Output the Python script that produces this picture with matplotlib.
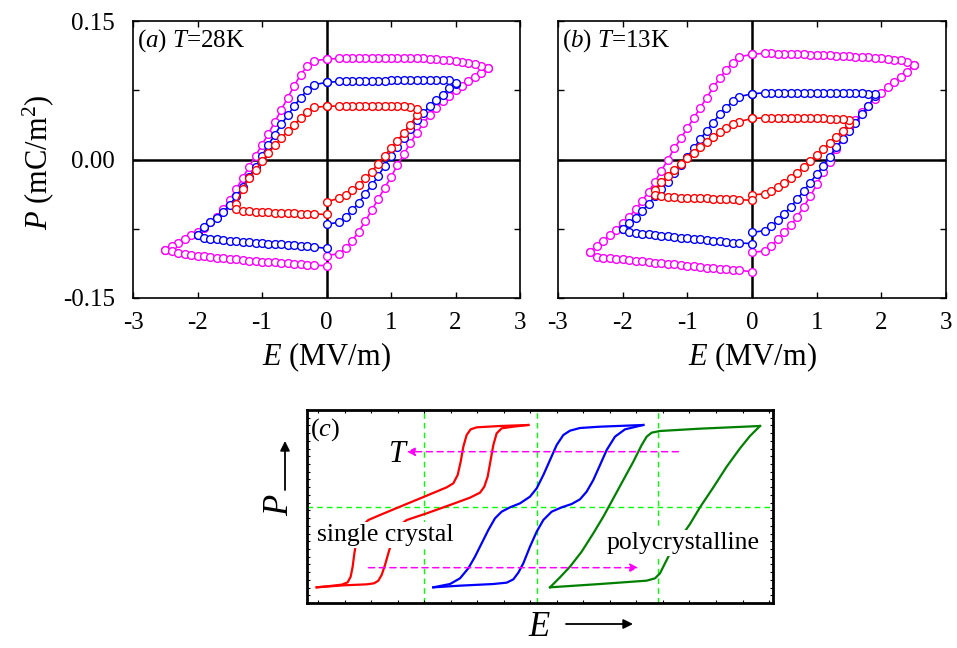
import numpy as np
import matplotlib
matplotlib.use("Agg")
import matplotlib.pyplot as plt
from matplotlib.ticker import MultipleLocator

plt.rcParams['font.family'] = ['Liberation Serif', 'DejaVu Serif']
plt.rcParams['mathtext.fontset'] = 'custom'
plt.rcParams['mathtext.rm'] = 'Liberation Serif'
plt.rcParams['mathtext.it'] = 'Liberation Serif:italic'
plt.rcParams['axes.unicode_minus'] = False

# field steps of the measurement (MV/m), same grid on both polarities
E_grid = [0.0, 0.2, 0.3, 0.4, 0.5, 0.6, 0.7, 0.8, 0.9, 1.0, 1.1, 1.2, 1.3,
          1.4, 1.5, 1.6, 1.7, 1.8, 1.9, 2.0, 2.1, 2.2, 2.3, 2.4, 2.5]

# ---- (a) T = 28 K ----  P in mC/m^2
# rise: 0 -> +Emax, top: values at E_grid (returned +Emax -> 0),
# desc: 0 -> -Emax, bot: values at -E_grid (returned -Emax -> 0)
a_mag_rise = [-0.104, -0.102, -0.096, -0.088, -0.078, -0.067, -0.055, -0.043, -0.031, -0.019,
              -0.006, 0.006, 0.018, 0.029, 0.039, 0.048, 0.056, 0.063, 0.069, 0.075,
              0.080, 0.085, 0.089, 0.094, 0.099]
a_mag_top = [0.1086, 0.1095, 0.1098, 0.1099, 0.1100, 0.1100, 0.1100, 0.1100, 0.1100, 0.1100,
             0.1100, 0.1100, 0.1099, 0.1098, 0.1095, 0.1091, 0.1086, 0.1080, 0.1075, 0.1069,
             0.1060, 0.1047, 0.1035, 0.1015, 0.0990]
a_mag_desc = [0.1086, 0.107, 0.101, 0.092, 0.080, 0.067, 0.054, 0.041, 0.028, 0.016,
              0.004, -0.008, -0.020, -0.032, -0.044, -0.054, -0.062, -0.068, -0.074, -0.078,
              -0.082, -0.086, -0.090, -0.094, -0.0975]
a_mag_bot = [-0.1150, -0.1145, -0.1140, -0.1135, -0.1130, -0.1125, -0.1120, -0.1115, -0.1110, -0.1105,
             -0.1100, -0.1095, -0.1090, -0.1083, -0.1076, -0.1070, -0.1062, -0.1055, -0.1047, -0.1040,
             -0.1030, -0.1020, -0.1010, -0.0995, -0.0975]

a_blue_rise = [-0.070, -0.068, -0.062, -0.055, -0.047, -0.037, -0.028, -0.018, -0.007, 0.004,
               0.014, 0.023, 0.033, 0.043, 0.050, 0.058, 0.064, 0.070, 0.077, 0.082]
a_blue_top = [0.0835, 0.0845, 0.0850, 0.0850, 0.0850, 0.0850, 0.0852, 0.0854, 0.0855, 0.0856,
              0.0858, 0.0860, 0.0861, 0.0862, 0.0862, 0.0862, 0.0861, 0.0860, 0.0858, 0.0830]
a_blue_desc = [0.0835, 0.081, 0.075, 0.067, 0.058, 0.048, 0.038, 0.027, 0.016, 0.004,
               -0.008, -0.019, -0.030, -0.040, -0.049, -0.057, -0.063, -0.068, -0.073, -0.0815]
a_blue_bot = [-0.0963, -0.0945, -0.0940, -0.0936, -0.0930, -0.0926, -0.0920, -0.0916, -0.0910, -0.0906,
              -0.0900, -0.0896, -0.0890, -0.0884, -0.0878, -0.0872, -0.0866, -0.0860, -0.0855, -0.0815]

a_red_rise = [-0.0457, -0.042, -0.0385, -0.0335, -0.028, -0.0205, -0.0133, -0.0047, 0.0036, 0.0126,
              0.0205, 0.0288, 0.0378, 0.0478]
a_red_top = [0.0576, 0.0580, 0.0582, 0.0582, 0.0582, 0.0582, 0.0582, 0.0582, 0.0581, 0.0580,
             0.0578, 0.0575, 0.0570, 0.0545]
a_red_desc = [0.0576, 0.0565, 0.0514, 0.045, 0.0378, 0.031, 0.023, 0.0155, 0.007, -0.002,
              -0.011, -0.020, -0.032, -0.048]
a_red_bot = [-0.0595, -0.0590, -0.0588, -0.0585, -0.0583, -0.0580, -0.0578, -0.0575, -0.0572, -0.0570,
             -0.0566, -0.0562, -0.0556, -0.0535]

# ---- (b) T = 13 K ----
b_mag_rise = [-0.1007, -0.099, -0.0935, -0.0863, -0.079, -0.071, -0.062, -0.051, -0.040, -0.027,
              -0.014, -0.0025, 0.011, 0.022, 0.034, 0.043, 0.051, 0.058, 0.065, 0.072,
              0.078, 0.084, 0.089, 0.095, 0.102]
b_mag_top = [0.1140, 0.1150, 0.1150, 0.1148, 0.1146, 0.1144, 0.1142, 0.1140, 0.1137, 0.1134,
             0.1131, 0.1128, 0.1125, 0.1122, 0.1118, 0.1114, 0.1110, 0.1106, 0.1102, 0.1097,
             0.1091, 0.1083, 0.1073, 0.1055, 0.1020]
b_mag_desc = [0.1140, 0.111, 0.105, 0.097, 0.088, 0.078, 0.067, 0.056, 0.045, 0.034,
              0.023, 0.012, 0.000, -0.012, -0.024, -0.035, -0.045, -0.054, -0.062, -0.069,
              -0.076, -0.082, -0.088, -0.094, -0.1005]
b_mag_bot = [-0.1215, -0.1200, -0.1195, -0.1190, -0.1183, -0.1176, -0.1170, -0.1163, -0.1156, -0.1150,
             -0.1143, -0.1136, -0.1130, -0.1123, -0.1116, -0.1110, -0.1103, -0.1096, -0.1090, -0.1083,
             -0.1076, -0.1070, -0.1063, -0.1053, -0.1005]

b_blue_rise = [-0.079, -0.077, -0.072, -0.066, -0.059, -0.051, -0.043, -0.034, -0.025, -0.016,
               -0.007, 0.003, 0.013, 0.022, 0.031, 0.040, 0.049, 0.058, 0.069]
b_blue_top = [0.0712, 0.0722, 0.0723, 0.0723, 0.0723, 0.0723, 0.0723, 0.0723, 0.0723, 0.0723,
              0.0723, 0.0722, 0.0722, 0.0721, 0.0720, 0.0718, 0.0716, 0.0712, 0.0705]
b_blue_desc = [0.0712, 0.068, 0.063, 0.056, 0.049, 0.040, 0.031, 0.022, 0.012, 0.003,
               -0.006, -0.015, -0.024, -0.032, -0.040, -0.048, -0.056, -0.063, -0.069, -0.0755]
b_blue_bot = [-0.0910, -0.0905, -0.0900, -0.0895, -0.0888, -0.0880, -0.0873, -0.0866, -0.0859, -0.0852,
              -0.0845, -0.0838, -0.0831, -0.0824, -0.0817, -0.0810, -0.0803, -0.0796, -0.0789, -0.0755]

b_red_rise = [-0.0385, -0.037, -0.034, -0.030, -0.025, -0.020, -0.0145, -0.0085, -0.002, 0.0045,
              0.011, 0.018, 0.0245, 0.031, 0.038]
b_red_top = [0.0445, 0.0450, 0.0451, 0.0451, 0.0451, 0.0451, 0.0450, 0.0450, 0.0449, 0.0448,
             0.0446, 0.0444, 0.0441, 0.0437, 0.0425]
b_red_desc = [0.0445, 0.041, 0.0385, 0.034, 0.030, 0.024, 0.019, 0.0133, 0.0072, 0.0018,
              -0.0047, -0.0115, -0.018, -0.0245, -0.033]
b_red_bot = [-0.0442, -0.0435, -0.0432, -0.0430, -0.0428, -0.0425, -0.0422, -0.0420, -0.0418, -0.0415,
             -0.0412, -0.0410, -0.0405, -0.0400, -0.0380]

panel_titles = [r'$\mathit{(a)}$ $T$=28K', r'$\mathit{(b)}$ $T$=13K']
xticks = [-3, -2, -1, 0, 1, 2, 3]
yticks = [-0.15, -0.075, 0.0, 0.075, 0.15]
ytick_labels = ['-0.15', '', '0.00', '', '0.15']

# ---- (c) sketch curves, arbitrary units ----
sc_lower_x = [2.07, 7.80, 12.80, 14.38, 15.31, 16.02, 16.74, 17.45, 18.53, 19.96, 21.39, 25.68,
              30.69, 34.98, 37.13, 38.05, 38.77, 39.41, 39.99, 40.70, 41.77, 44.28, 47.50]
sc_lower_y = [8.12, 9.15, 9.67, 10.19, 11.57, 14.51, 19.69, 25.73, 34.37, 40.41, 43.0, 46.46,
              50.78, 54.58, 57.17, 60.28, 65.46, 74.09, 81.87, 87.91, 90.50, 91.36, 92.23]
sc_upper_x = [47.50, 41.42, 36.41, 35.12, 34.26, 33.55, 32.98, 32.33, 31.40, 29.97, 25.68, 19.96,
              15.67, 13.16, 11.73, 10.66, 10.16, 9.80, 9.37, 8.73, 7.44, 4.94, 2.07]
sc_upper_y = [92.23, 91.71, 91.02, 89.98, 87.05, 81.0, 73.23, 66.32, 62.0, 59.93, 55.61, 49.91,
              45.60, 43.0, 39.55, 32.64, 25.73, 18.83, 13.64, 10.71, 9.50, 8.81, 8.12]

mid_upper_x = [72.17, 62.88, 58.58, 56.44, 55.01, 53.58, 52.15, 50.72, 49.29, 47.85, 45.71, 43.56,
               41.77, 40.34, 38.91, 37.48, 36.05, 34.62, 32.83, 30.69, 27.11]
mid_upper_y = [92.23, 91.36, 90.67, 89.29, 87.05, 81.87, 74.09, 66.32, 59.41, 55.09, 51.64, 49.57,
               47.32, 43.87, 37.82, 30.92, 24.01, 17.96, 12.78, 9.84, 8.12]
mid_lower_x = [27.11, 32.83, 39.99, 42.85, 44.28, 45.35, 46.42, 47.85, 49.29, 50.72, 52.50, 54.65,
               56.80, 58.58, 60.01, 61.44, 62.88, 64.31, 66.09, 68.24, 72.17]
mid_lower_y = [8.12, 8.98, 9.84, 10.54, 12.26, 15.72, 20.55, 29.19, 36.96, 43.01, 47.32, 49.57,
               51.30, 53.71, 57.69, 63.73, 71.50, 79.27, 86.18, 89.98, 92.23]

poly_upper_x = [97.21, 84.33, 75.75, 73.96, 72.89, 71.82, 70.03, 67.88, 65.74, 63.59, 61.44,
                58.94, 56.44, 54.29, 52.15]
poly_upper_y = [91.71, 90.33, 89.12, 88.26, 86.18, 81.87, 73.23, 63.73, 54.23, 44.73, 36.10,
                26.60, 18.83, 13.30, 8.12]
poly_lower_x = [52.15, 62.88, 72.89, 74.68, 75.75, 76.82, 77.90, 80.04, 82.19, 84.33, 87.20,
                90.06, 92.92, 95.06, 97.21]
poly_lower_y = [8.12, 9.84, 11.57, 12.78, 15.37, 20.55, 25.73, 33.51, 40.93, 49.57, 59.93,
                70.64, 80.14, 86.53, 91.71]

guide_x = [25.0, 49.4, 75.4]
guide_y = [50.0]


def loop(Emax_pos, Emax_neg, rise, top, desc, bot):
    """Join the four branches of a measured loop into one path."""
    ep = E_grid[:Emax_pos]
    en = [-e for e in E_grid[:Emax_neg]]
    E = ep + ep[::-1] + en + en[::-1]
    P = rise + top[::-1] + desc + bot[::-1]
    return E, P


fig = plt.figure(figsize=(9.57, 6.48), dpi=100)
ax_a = fig.add_axes([133 / 957, 350 / 648, 387 / 957, 277 / 648])
ax_b = fig.add_axes([558 / 957, 350 / 648, 388 / 957, 277 / 648])
ax_c = fig.add_axes([307 / 957, 45 / 648, 466 / 957, 193 / 648])

loops_a = [('#FF00FF', loop(25, 25, a_mag_rise, a_mag_top, a_mag_desc, a_mag_bot)),
           ('#0000FF', loop(20, 20, a_blue_rise, a_blue_top, a_blue_desc, a_blue_bot)),
           ('#FF0000', loop(14, 14, a_red_rise, a_red_top, a_red_desc, a_red_bot))]
loops_b = [('#FF00FF', loop(25, 25, b_mag_rise, b_mag_top, b_mag_desc, b_mag_bot)),
           ('#0000FF', loop(19, 20, b_blue_rise, b_blue_top, b_blue_desc, b_blue_bot)),
           ('#FF0000', loop(15, 15, b_red_rise, b_red_top, b_red_desc, b_red_bot))]

for ax, loops, title in [(ax_a, loops_a, panel_titles[0]), (ax_b, loops_b, panel_titles[1])]:
    ax.axhline(0, color='black', lw=1.8, zorder=1)
    ax.axvline(0, color='black', lw=1.8, zorder=1)
    for color, (E, P) in loops:
        ax.plot(E, P, '-o', color=color, lw=1.2, ms=5.6, mew=1.0,
                mfc='white', mec=color, zorder=3)
    ax.set_xlim(-3, 3)
    ax.set_ylim(-0.15, 0.15)
    ax.set_xticks(xticks)
    ax.set_xticklabels([str(t) for t in xticks])
    ax.set_yticks(yticks)
    ax.tick_params(direction='in', top=True, right=True, length=4, width=1,
                   labelsize=18)
    ax.tick_params(axis='x', pad=10)
    ax.tick_params(axis='y', pad=13)
    for s in ax.spines.values():
        s.set_linewidth(1.2)
    ax.text(0.01, 0.93, title, transform=ax.transAxes, ha='left', va='center', fontsize=18)
    ax.set_xlabel(r'$E$ (MV/m)', fontsize=22, va='center')
    ax.xaxis.set_label_coords(0.5, -0.213)

ax_a.set_yticklabels(ytick_labels)
ax_b.set_yticklabels([])
ax_a.set_ylabel(r'$P$ (mC/m$^2$)', fontsize=22, va='center')
ax_a.yaxis.set_label_coords(-0.245, 0.49)

# ---- (c) schematic ----
for gx in guide_x:
    ax_c.axvline(gx, color='#00FF00', lw=1.0, ls=(0, (4, 3)), zorder=1)
for gy in guide_y:
    ax_c.axhline(gy, color='#00FF00', lw=1.0, ls=(0, (4, 3)), zorder=1)

ax_c.plot(sc_lower_x, sc_lower_y, color='#FF0000', lw=1.6, zorder=2)
ax_c.plot(sc_upper_x, sc_upper_y, color='#FF0000', lw=1.6, zorder=2)
ax_c.plot(mid_lower_x, mid_lower_y, color='#0000FF', lw=1.6, zorder=2)
ax_c.plot(mid_upper_x, mid_upper_y, color='#0000FF', lw=1.6, zorder=2)
ax_c.plot(poly_lower_x, poly_lower_y, color='#008000', lw=1.6, zorder=2)
ax_c.plot(poly_upper_x, poly_upper_y, color='#008000', lw=1.6, zorder=2)

ax_c.text(16.7, 35.2, 'single crystal', fontsize=18.5, ha='center', va='center', zorder=3,
          bbox=dict(facecolor='white', edgecolor='none', pad=1.5))
ax_c.text(80.8, 30.9, 'polycrystalline', fontsize=18.5, ha='center', va='center', zorder=3,
          bbox=dict(facecolor='white', edgecolor='none', pad=1.5))
ax_c.text(3.9, 89.6, r'$\mathit{(c)}$', fontsize=19, ha='center', va='center', zorder=4)
ax_c.text(19.6, 77.2, r'$T$', fontsize=22, ha='center', va='center', zorder=4)

arrow = dict(arrowstyle='-|>', color='#FF00FF', lw=1.1, ls=(0, (4, 3)),
             mutation_scale=12, shrinkA=0, shrinkB=0)
ax_c.annotate('', xy=(21.4, 78.4), xytext=(79.7, 78.4), arrowprops=arrow, zorder=4)
ax_c.annotate('', xy=(71.1, 18.3), xytext=(13.2, 18.3), arrowprops=arrow, zorder=4)

ax_c.set_xlim(0, 100)
ax_c.set_ylim(0, 100)
ax_c.xaxis.set_major_locator(MultipleLocator(5.69, offset=2.42))
ax_c.yaxis.set_major_locator(MultipleLocator(4.0))
ax_c.tick_params(direction='in', top=True, right=True, length=2.5, width=0.8,
                 labelbottom=False, labelleft=False)
for s in ax_c.spines.values():
    s.set_linewidth(2.0)

# axis cues for the sketch, placed in figure fraction
fig.text(540 / 957, 1 - 627 / 648, r'$E$', fontsize=25, ha='center', va='center')
fig.text(279 / 957, 1 - 505 / 648, r'$P$', fontsize=25, ha='center', va='center', rotation=90)
cue = dict(arrowstyle='-|>', color='black', lw=1.3, mutation_scale=14, shrinkA=0, shrinkB=0)
ax_c.annotate('', xy=(633 / 957, 1 - 624 / 648), xytext=(566 / 957, 1 - 624 / 648),
              xycoords='figure fraction', textcoords='figure fraction',
              arrowprops=cue, annotation_clip=False)
ax_c.annotate('', xy=(285 / 957, 1 - 441 / 648), xytext=(285 / 957, 1 - 490 / 648),
              xycoords='figure fraction', textcoords='figure fraction',
              arrowprops=cue, annotation_clip=False)

fig.savefig('out.png', dpi=100)
